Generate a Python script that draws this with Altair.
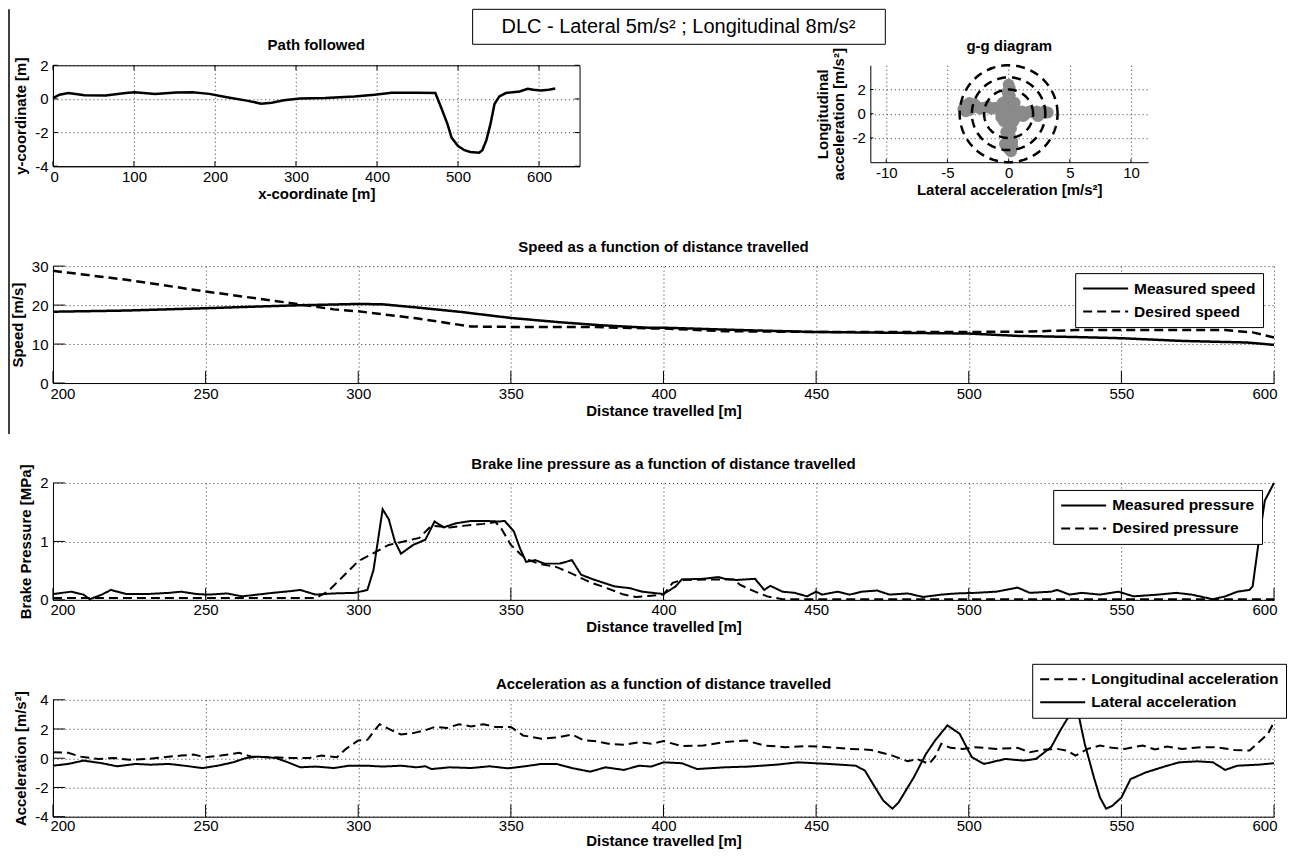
import altair as alt
import pandas as pd

# ---------------- data ----------------
SUPTITLE = ["DLC - Lateral 5m/s\u00b2 ; Longitudinal 8m/s\u00b2"]

path_x = [0, 8, 19, 39, 65, 90, 101, 126, 152, 172, 193, 213, 239, 257, 270, 285, 305, 336, 372, 397,
          418, 449, 472, 479, 487, 492, 500, 508, 515, 526, 530, 535, 540, 545, 551, 559, 576, 586, 593, 602,
          612, 620]
path_y = [0.05, 0.25, 0.35, 0.22, 0.2, 0.35, 0.4, 0.3, 0.38, 0.4, 0.3, 0.12, -0.1, -0.28, -0.23, -0.08, 0.02, 0.05, 0.15, 0.25,
          0.37, 0.37, 0.35, -0.5, -1.5, -2.3, -2.8, -3.05, -3.15, -3.2, -3.05, -2.45, -1.5, -0.3, 0.15, 0.35, 0.44, 0.6, 0.55, 0.5,
          0.55, 0.62]

gg_lat = [0.0, 0.1, -0.1, 0.1, -0.1, 0.2, -0.3, 0.3, 0.0, -0.4, 0.4, 0.0, -0.4, 0.4, 0.0, 0.2, -0.2, 0.1, -0.1, 0.3,
          -0.3, 0.3, 0.0, 0.2,
          -0.8, -1.1, -1.4, -1.7, -2.0, -2.3, -2.6, -2.9, -3.2, -3.5, -3.5, -3.2, -2.8, -3.7,
          0.8, 1.1, 1.4, 1.7, 2.0, 2.3, 2.6, 2.9, 3.2, 1.2, 2.4,
          -0.6, 0.6, -0.6, 0.6, 0.5, -0.5]
gg_lon = [2.4, 2.1, 1.8, 1.5, 1.2, 0.9, 0.6, 0.6, 0.3, 0.0, 0.0, -0.3, -0.6, -0.6, -0.9, -1.2, -1.5, -1.8, -2.1, -2.3,
          -2.5, -2.7, -2.9, -3.1,
          0.4, 0.5, 0.4, 0.6, 0.5, 0.4, 0.6, 0.5, 0.3, 0.2, 0.7, 0.9, 0.8, 0.4,
          0.1, 0.2, 0.0, 0.2, 0.1, 0.2, 0.0, 0.2, 0.1, -0.2, -0.2,
          0.2, 0.3, -0.3, -0.3, 0.9, 0.9]
gg_radii = [2, 3, 4]

speed_meas_x = [200, 224, 250, 278, 300, 308, 319, 333, 350, 366, 380, 395, 400, 425, 450, 475, 500, 516, 535, 550, 570, 591, 600]
speed_meas_y = [18.3, 18.6, 19.2, 19.9, 20.3, 20.2, 19.4, 18.3, 16.7, 15.6, 14.8, 14.2, 14.2, 13.6, 13.1, 12.9, 12.7, 12.1, 11.8, 11.5, 10.8, 10.4, 9.8]
speed_des_x = [200, 224, 250, 278, 292, 300, 319, 337, 350, 375, 396, 400, 420, 450, 500, 520, 535, 550, 584, 593, 600]
speed_des_y = [28.8, 26.5, 23.5, 20.5, 18.9, 18.4, 16.6, 14.5, 14.4, 14.4, 14.0, 14.0, 13.3, 13.1, 13.1, 13.2, 13.6, 13.6, 13.6, 13.0, 11.7]

brake_meas_x = [200, 206, 210, 212, 216, 219, 224, 231, 238, 242, 247, 251, 257, 262, 272, 278, 281, 286, 292, 299,
                303, 305, 308, 310, 312, 314, 318, 322, 325, 328, 332, 337, 342, 346, 348, 351, 353, 355, 358, 361,
                366, 370, 373, 377, 384, 389, 393, 400, 404, 406, 413, 418, 420, 424, 430, 433, 435, 439, 443, 447,
                450, 452, 457, 461, 465, 470, 474, 480, 485, 491, 496, 502, 509, 516, 520, 527, 529, 533, 537, 543,
                549, 554, 562, 568, 573, 580, 584, 588, 592, 593, 595, 597, 600]
brake_meas_y = [0.10, 0.14, 0.09, 0.01, 0.09, 0.17, 0.10, 0.10, 0.12, 0.14, 0.10, 0.09, 0.11, 0.06, 0.12, 0.15, 0.17, 0.09, 0.11, 0.12,
                0.17, 0.51, 1.55, 1.38, 1.0, 0.79, 0.94, 1.03, 1.34, 1.24, 1.31, 1.35, 1.35, 1.34, 1.35, 1.17, 0.88, 0.65, 0.68, 0.62,
                0.62, 0.68, 0.43, 0.35, 0.23, 0.20, 0.14, 0.10, 0.23, 0.35, 0.36, 0.39, 0.36, 0.34, 0.36, 0.17, 0.24, 0.14, 0.12, 0.06,
                0.14, 0.09, 0.14, 0.09, 0.14, 0.16, 0.09, 0.11, 0.05, 0.09, 0.11, 0.12, 0.14, 0.21, 0.12, 0.14, 0.17, 0.09, 0.12, 0.09,
                0.14, 0.06, 0.09, 0.12, 0.09, 0.01, 0.06, 0.14, 0.17, 0.23, 1.0, 1.7, 2.0]
brake_des_x = [200, 286, 290, 295, 300, 305, 310, 315, 320, 324, 330, 335, 341, 345, 347, 350, 353, 355, 359, 365,
               370, 376, 381, 387, 391, 396, 400, 403, 406, 417, 423, 425, 430, 434, 439, 600]
brake_des_y = [0.03, 0.03, 0.14, 0.4, 0.66, 0.8, 0.94, 1.0, 1.06, 1.27, 1.24, 1.27, 1.3, 1.33, 1.21, 0.94, 0.79, 0.7, 0.62, 0.56,
               0.45, 0.3, 0.21, 0.09, 0.05, 0.07, 0.09, 0.29, 0.34, 0.35, 0.35, 0.26, 0.14, 0.06, 0.01, 0.01]

lon_x = [200, 205, 209, 215, 220, 225, 231, 236, 242, 246, 250, 255, 261, 265, 272, 278, 284, 288, 293, 296,
         300, 303, 305, 307, 311, 314, 318, 322, 325, 329, 333, 337, 341, 345, 350, 354, 360, 366, 370, 374,
         378, 382, 387, 392, 396, 400, 406, 413, 420, 427, 433, 440, 447, 454, 461, 468, 475, 480, 483, 487,
         489, 491, 494, 498, 502, 509, 516, 520, 524, 529, 532, 535, 539, 543, 547, 551, 557, 561, 565, 570,
         576, 581, 587, 592, 595, 598, 600]
lon_y = [0.41, 0.37, 0.11, -0.05, 0.02, -0.11, -0.05, 0.07, 0.18, 0.25, 0.07, 0.18, 0.37, 0.11, 0.07, 0.02, 0.02, 0.18, 0.07, 0.64,
         1.22, 1.26, 1.8, 2.33, 1.91, 1.63, 1.72, 1.91, 2.14, 2.07, 2.32, 2.18, 2.32, 2.14, 2.14, 1.56, 1.33, 1.45, 1.63, 1.22,
         1.17, 0.99, 0.92, 1.1, 0.99, 1.17, 0.83, 0.87, 1.1, 1.22, 0.87, 0.76, 0.83, 0.76, 0.64, 0.57, 0.18, -0.21, -0.05, -0.39,
         0.11, 0.99, 0.71, 0.64, 0.76, 0.64, 0.71, 0.41, 0.57, 0.64, 0.53, 0.18, 0.64, 0.87, 0.71, 0.64, 0.87, 0.6, 0.8, 0.64,
         0.76, 0.76, 0.57, 0.53, 1.1, 1.66, 2.48]
lat_x = [200, 205, 210, 216, 221, 227, 232, 238, 243, 249, 254, 259, 263, 267, 273, 277, 281, 286, 292, 297,
         303, 308, 314, 319, 322, 324, 330, 337, 343, 349, 354, 360, 365, 370, 376, 381, 387, 392, 396, 400,
         406, 411, 420, 428, 437, 444, 454, 463, 466, 469, 472, 475, 477, 482, 486, 489, 493, 497, 501, 505,
         512, 518, 522, 527, 530, 534, 536, 538, 541, 543, 545, 547, 550, 553, 558, 565, 569, 575, 580, 584,
         588, 595, 600]
lat_y = [-0.51, -0.39, -0.16, -0.34, -0.55, -0.39, -0.44, -0.39, -0.51, -0.67, -0.51, -0.28, 0.0, 0.11, 0.02, -0.28, -0.62, -0.57, -0.67, -0.51,
         -0.51, -0.57, -0.51, -0.62, -0.55, -0.74, -0.62, -0.67, -0.55, -0.69, -0.57, -0.39, -0.39, -0.67, -0.92, -0.62, -0.8, -0.51, -0.57, -0.28,
         -0.34, -0.74, -0.62, -0.57, -0.44, -0.28, -0.39, -0.51, -0.85, -1.89, -2.9, -3.45, -3.03, -1.31, 0.3, 1.22, 2.25, 1.68, 0.07, -0.39,
         -0.05, -0.16, -0.05, 0.76, 1.91, 3.3, 2.94, 0.99, -1.31, -2.69, -3.45, -3.26, -2.69, -1.43, -0.97, -0.51, -0.28, -0.21, -0.28, -0.8,
         -0.51, -0.44, -0.34]

path_xticks = [0, 100, 200, 300, 400, 500, 600]
path_yticks = [-4, -2, 0, 2]
gg_xticks = [-10, -5, 0, 5, 10]
gg_yticks = [-2, 0, 2]
dist_ticks = [200, 250, 300, 350, 400, 450, 500, 550, 600]
speed_ticks = [0, 10, 20, 30]
brake_ticks = [0, 1, 2]
acc_ticks = [-4, -2, 0, 2, 4]

# ---------------- style ----------------
FONT = "'Liberation Sans Narrow', 'Arial Narrow', 'Liberation Sans', Arial, sans-serif"
SUPFONT = "'Liberation Sans', Arial, sans-serif"
W_MAIN, H_MAIN = 1222, 117
W_PATH, H_PATH = 527, 101
W_GG, H_GG = 278, 97


def ax(values, title, is_x=True, **kw):
    base = dict(values=values, title=title, ticks=False, domainColor="black", domainWidth=1,
                labelFont=FONT, labelFontSize=15, labelColor="black", labelOverlap=False,
                labelExpr="'' + datum.value",
                titleFont=FONT, titleFontSize=15, titleFontWeight="bold", titleColor="black",
                grid=True, gridColor="#333333", gridDash=[1, 3], gridWidth=1, gridOpacity=1)
    if is_x:
        base.update(labelPadding=3, titlePadding=2, labelFlush=True, labelFlushOffset=3)
    else:
        base.update(labelPadding=5, titlePadding=6)
    base.update(kw)
    return alt.Axis(**base)


def inner_ticks(xvals, yvals, xs, ys, xa, ya, w, h, L, box=False):
    xdf = pd.DataFrame({"tx": xvals})
    ydf = pd.DataFrame({"ty": yvals})
    r = dict(color="black", strokeWidth=1)
    out = [
        alt.Chart(xdf).mark_rule(**r).encode(x=alt.X("tx:Q", scale=xs, axis=xa), y=alt.value(h), y2=alt.value(h - L)),
        alt.Chart(ydf).mark_rule(**r).encode(y=alt.Y("ty:Q", scale=ys, axis=ya), x=alt.value(0), x2=alt.value(L)),
    ]
    if box:
        out += [
            alt.Chart(xdf).mark_rule(**r).encode(x=alt.X("tx:Q", scale=xs, axis=xa), y=alt.value(0), y2=alt.value(L)),
            alt.Chart(ydf).mark_rule(**r).encode(y=alt.Y("ty:Q", scale=ys, axis=ya), x=alt.value(w), x2=alt.value(w - L)),
        ]
    return out


def title(t, dy=0):
    return alt.Title(t, font=FONT, fontSize=15, fontWeight="bold", color="black", anchor="middle", offset=4, dy=dy)


def legend(x, y):
    return alt.Legend(orient="none", legendX=x, legendY=y, title=None, fillColor="white", strokeColor="black",
                      padding=7, labelFont=FONT, labelFontSize=15.5, labelFontWeight="bold", labelColor="black",
                      labelLimit=400, symbolType="M-1,0H5", symbolSize=225, symbolStrokeWidth=2,
                      symbolStrokeColor="black", labelOffset=35, rowPadding=6, cornerRadius=0)


# ---------------- path followed ----------------
px_s = alt.Scale(domain=[0, 650], nice=False, zero=False)
py_s = alt.Scale(domain=[-4, 2], nice=False, zero=False)
px_a = ax(path_xticks, "x-coordinate [m]")
py_a = ax(path_yticks, "y-coordinate [m]", is_x=False)
path_df = pd.DataFrame({"x": path_x, "y": path_y})
path_line = alt.Chart(path_df).mark_line(color="black", strokeWidth=2.5).encode(
    x=alt.X("x:Q", scale=px_s, axis=px_a),
    y=alt.Y("y:Q", scale=py_s, axis=py_a),
    order="x:Q",
)
path_chart = alt.layer(
    path_line, *inner_ticks(path_xticks, path_yticks, px_s, py_s, px_a, py_a, W_PATH, H_PATH, 5, box=True),
).properties(width=W_PATH, height=H_PATH, title=title("Path followed"),
             view=alt.ViewBackground(stroke="black", strokeWidth=1))

# ---------------- g-g diagram ----------------
gx_s = alt.Scale(domain=[-11.3, 11.4], nice=False, zero=False)
gy_s = alt.Scale(domain=[-4, 4], nice=False, zero=False)
gx_a = ax(gg_xticks, "Lateral acceleration [m/s\u00b2]", labelFlush=False)
gy_a = ax(gg_yticks, ["Longitudinal", "acceleration [m/s\u00b2]"], is_x=False, titlePadding=6, titleLineHeight=16)
gg_df = pd.DataFrame({"lat": gg_lat, "lon": gg_lon})
gg_pts = alt.Chart(gg_df).mark_circle(size=140, color="#8a8a8a", opacity=1).encode(
    x=alt.X("lat:Q", scale=gx_s, axis=gx_a),
    y=alt.Y("lon:Q", scale=gy_s, axis=gy_a),
)
gg_circles = []
for rad in gg_radii:
    gg_circles.append(
        alt.Chart(alt.sequence(0, 363, 3, as_="deg"))
        .transform_calculate(lat=f"{rad}*cos(datum.deg*PI/180)", lon=f"{rad}*sin(datum.deg*PI/180)")
        .mark_line(color="black", strokeWidth=2.5, strokeDash=[9, 6])
        .encode(x=alt.X("lat:Q", scale=gx_s, axis=gx_a), y=alt.Y("lon:Q", scale=gy_s, axis=gy_a), order="deg:Q")
    )
gg_chart = alt.layer(
    gg_pts, *gg_circles, *inner_ticks(gg_xticks, gg_yticks, gx_s, gy_s, gx_a, gy_a, W_GG, H_GG, 3),
).properties(width=W_GG, height=H_GG, title=title("g-g diagram", dy=10))

# ---------------- spacer carrying the figure title box and the left border ----------------
sup_df = pd.DataFrame({"t": SUPTITLE})
sup_box = alt.Chart(sup_df).mark_rect(fill="white", stroke="black", strokeWidth=1).encode(
    x=alt.value(420), x2=alt.value(833), y=alt.value(-156), y2=alt.value(-121))
sup_text = alt.Chart(sup_df).mark_text(font=SUPFONT, fontSize=20, color="black", align="center", baseline="middle").encode(
    x=alt.value(626), y=alt.value(-138), text="t:N")
left_line = alt.Chart(sup_df).mark_rule(color="black", strokeWidth=1.5).encode(
    x=alt.value(-44), y=alt.value(-156), y2=alt.value(269))
spacer = alt.layer(left_line, sup_box, sup_text).properties(width=1, height=1)

# ---------------- speed ----------------
dx_s = alt.Scale(domain=[200, 600], nice=False, zero=False)
sy_s = alt.Scale(domain=[0, 30], nice=False)
dx_a = ax(dist_ticks, "Distance travelled [m]")
sy_a = ax(speed_ticks, "Speed [m/s]", is_x=False)
speed_df = pd.concat([
    pd.DataFrame({"d": speed_meas_x, "v": speed_meas_y, "s": "Measured speed"}),
    pd.DataFrame({"d": speed_des_x, "v": speed_des_y, "s": "Desired speed"}),
])
speed_line = alt.Chart(speed_df).mark_line(color="black", strokeWidth=2.5).encode(
    x=alt.X("d:Q", scale=dx_s, axis=dx_a),
    y=alt.Y("v:Q", scale=sy_s, axis=sy_a),
    strokeDash=alt.StrokeDash("s:N", scale=alt.Scale(domain=["Measured speed", "Desired speed"], range=[[1, 0], [9, 5]]),
                              legend=legend(1023, 7)),
)
speed_chart = alt.layer(
    speed_line, *inner_ticks(dist_ticks, speed_ticks, dx_s, sy_s, dx_a, sy_a, W_MAIN, H_MAIN, 12),
).properties(width=W_MAIN, height=H_MAIN, title=title("Speed as a function of distance travelled"))

# ---------------- brake ----------------
by_s = alt.Scale(domain=[0, 2], nice=False)
by_a = ax(brake_ticks, "Brake Pressure [MPa]", is_x=False)
brake_df = pd.concat([
    pd.DataFrame({"d": brake_meas_x, "v": brake_meas_y, "s": "Measured pressure"}),
    pd.DataFrame({"d": brake_des_x, "v": brake_des_y, "s": "Desired pressure"}),
])
brake_line = alt.Chart(brake_df).mark_line(color="black", strokeWidth=2).encode(
    x=alt.X("d:Q", scale=dx_s, axis=dx_a),
    y=alt.Y("v:Q", scale=by_s, axis=by_a),
    strokeDash=alt.StrokeDash("s:N", scale=alt.Scale(domain=["Measured pressure", "Desired pressure"], range=[[1, 0], [9, 5]]),
                              legend=legend(1001, 7)),
)
brake_chart = alt.layer(
    brake_line, *inner_ticks(dist_ticks, brake_ticks, dx_s, by_s, dx_a, by_a, W_MAIN, H_MAIN, 12),
).properties(width=W_MAIN, height=H_MAIN,
             title=title("Brake line pressure as a function of distance travelled", dy=12))

# ---------------- acceleration ----------------
ay_s = alt.Scale(domain=[-4, 4], nice=False)
ax_a = ax(dist_ticks, "Distance travelled [m]", labelPadding=2, titlePadding=0)
ay_a = ax(acc_ticks, "Acceleration [m/s\u00b2]", is_x=False)
acc_df = pd.concat([
    pd.DataFrame({"d": lon_x, "v": lon_y, "s": "Longitudinal acceleration"}),
    pd.DataFrame({"d": lat_x, "v": lat_y, "s": "Lateral acceleration"}),
])
acc_line = alt.Chart(acc_df).mark_line(color="black", strokeWidth=2).encode(
    x=alt.X("d:Q", scale=dx_s, axis=ax_a),
    y=alt.Y("v:Q", scale=ay_s, axis=ay_a),
    strokeDash=alt.StrokeDash("s:N", scale=alt.Scale(domain=["Longitudinal acceleration", "Lateral acceleration"],
                                                     range=[[9, 5], [1, 0]]),
                              legend=legend(980, -36)),
)
acc_chart = alt.layer(
    acc_line, *inner_ticks(dist_ticks, acc_ticks, dx_s, ay_s, ax_a, ay_a, W_MAIN, H_MAIN, 12),
).properties(width=W_MAIN, height=H_MAIN,
             title=title("Acceleration as a function of distance travelled", dy=33))

# ---------------- assemble ----------------
row1 = alt.hconcat(path_chart, gg_chart, spacing=291, bounds="flush")
chart = (
    alt.vconcat(row1, spacer, speed_chart, brake_chart, acc_chart, spacing=100, bounds="flush")
    .resolve_scale(x="independent", y="independent", strokeDash="independent")
    .resolve_legend(strokeDash="independent")
    .properties(padding=0, background="white")
    .configure_view(stroke=None)
)

chart.save("out.html", embed_options={"renderer": "svg", "actions": False})
